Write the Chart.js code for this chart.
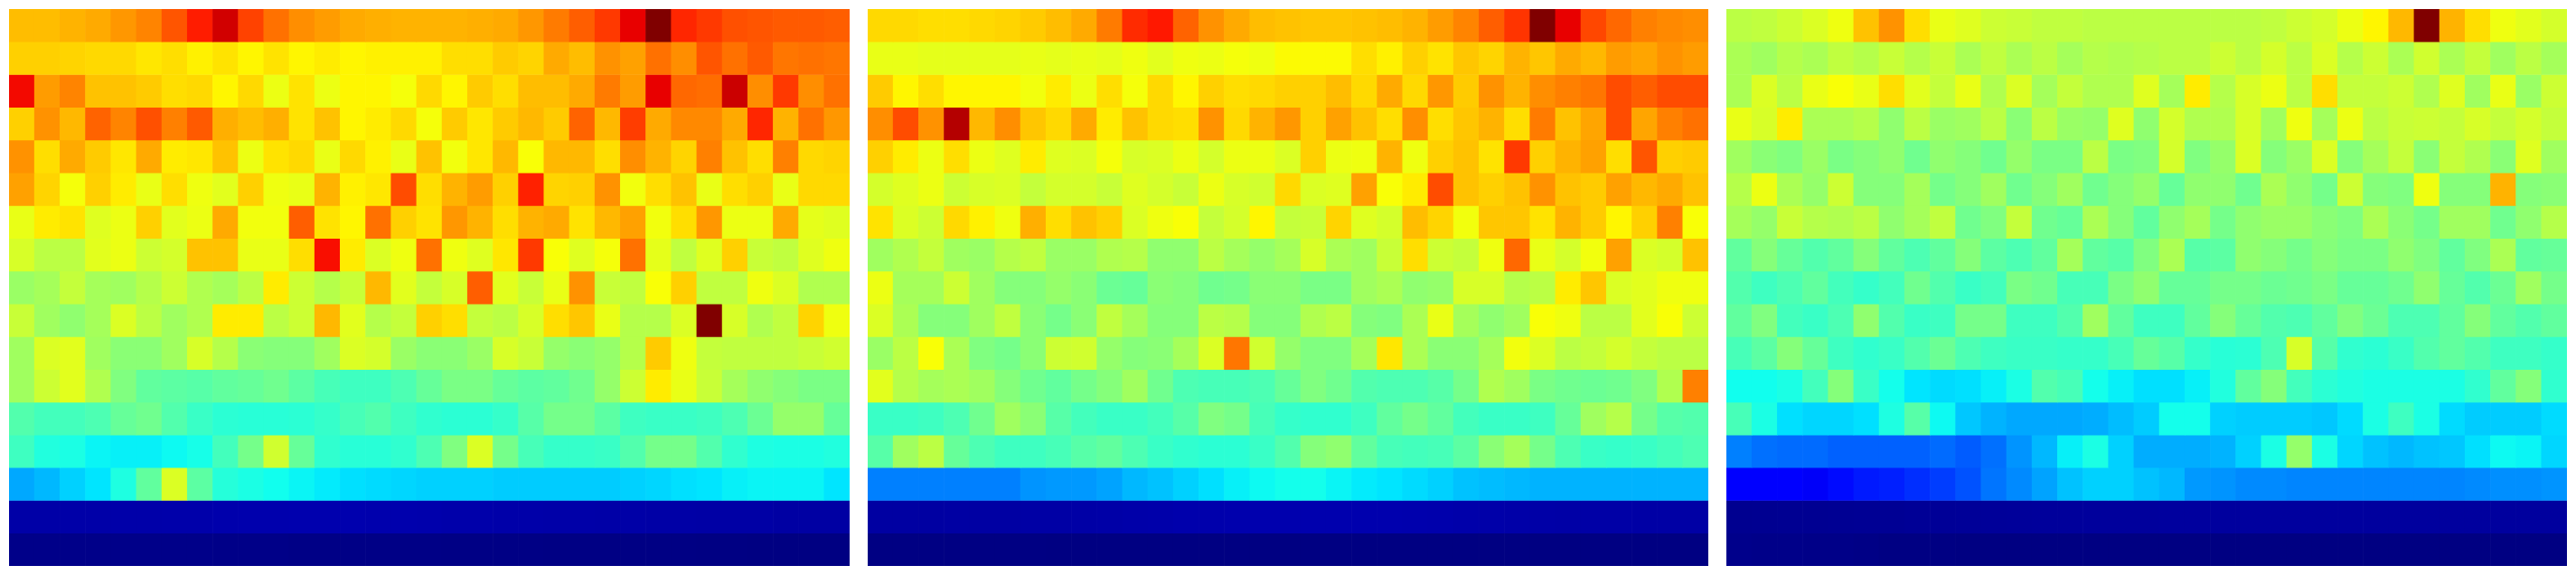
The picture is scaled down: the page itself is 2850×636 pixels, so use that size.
<!DOCTYPE html>
<html>
<head>
<meta charset="utf-8">
<title>Heatmaps</title>
<script src="https://cdn.jsdelivr.net/npm/chart.js@4"></script>
<style>
  html, body { margin: 0; padding: 0; background: #fff; }
  body { width: 2850px; height: 636px; position: relative; overflow: hidden; }
  canvas { position: absolute; top: 10px; }
  #panelLeft { left: 10px; }
  #panelMiddle { left: 960px; }
  #panelRight { left: 1910px; }
</style>
</head>
<body>
<canvas id="panelLeft" width="930" height="616"></canvas>
<canvas id="panelMiddle" width="930" height="616"></canvas>
<canvas id="panelRight" width="930" height="616"></canvas>
<script>
// values, 0..1 on the colour scale, top row first
const leftRows = [
  [.71,.71,.72,.73,.75,.77,.82,.88,.93,.84,.79,.76,.745,.73,.725,.72,.72,.72,.725,.73,.75,.78,.81,.85,.91,1,.87,.85,.825,.82,.815,.815,.81],
  [.69,.69,.685,.68,.68,.665,.675,.655,.67,.65,.67,.65,.66,.65,.655,.655,.655,.675,.675,.695,.685,.73,.71,.755,.74,.79,.76,.82,.79,.815,.785,.79,.785],
  [.9,.745,.77,.705,.705,.695,.675,.68,.65,.68,.62,.67,.62,.65,.65,.635,.68,.65,.695,.675,.71,.71,.73,.78,.745,.91,.8,.795,.935,.76,.85,.76,.79],
  [.69,.755,.715,.805,.77,.825,.775,.815,.725,.71,.725,.67,.705,.65,.66,.68,.635,.695,.665,.695,.715,.695,.805,.715,.845,.73,.765,.765,.73,.87,.72,.79,.75],
  [.755,.675,.73,.695,.665,.73,.66,.665,.705,.62,.67,.68,.615,.68,.655,.615,.705,.63,.665,.715,.64,.715,.715,.675,.76,.72,.685,.775,.705,.675,.775,.68,.685],
  [.74,.685,.635,.69,.66,.615,.675,.625,.605,.69,.625,.615,.72,.655,.665,.83,.675,.72,.745,.69,.875,.685,.69,.755,.63,.675,.705,.615,.675,.69,.615,.68,.68],
  [.615,.66,.67,.6,.62,.69,.605,.62,.73,.63,.63,.81,.67,.65,.79,.69,.67,.75,.72,.675,.72,.73,.67,.715,.74,.63,.675,.75,.62,.62,.73,.61,.6],
  [.59,.555,.555,.605,.62,.575,.585,.705,.705,.615,.615,.675,.895,.66,.595,.625,.79,.625,.6,.665,.85,.64,.6,.635,.79,.61,.56,.6,.69,.57,.56,.6,.625],
  [.525,.535,.565,.535,.53,.55,.575,.545,.535,.555,.66,.575,.55,.57,.715,.605,.565,.59,.81,.605,.57,.615,.755,.57,.56,.64,.69,.56,.56,.625,.595,.545,.545],
  [.57,.53,.515,.535,.595,.555,.53,.545,.66,.66,.555,.575,.715,.605,.55,.565,.69,.675,.565,.555,.59,.675,.7,.615,.55,.55,.595,1,.59,.545,.56,.685,.625],
  [.53,.595,.605,.53,.51,.51,.53,.59,.55,.51,.505,.505,.53,.595,.585,.525,.51,.51,.525,.59,.57,.52,.51,.52,.55,.695,.625,.565,.56,.56,.56,.57,.58],
  [.53,.575,.605,.545,.5,.47,.465,.46,.47,.475,.485,.465,.445,.435,.435,.45,.475,.495,.495,.475,.465,.47,.485,.52,.575,.66,.615,.57,.535,.515,.505,.495,.495],
  [.455,.44,.44,.45,.475,.485,.455,.43,.415,.41,.41,.415,.425,.445,.455,.435,.42,.415,.415,.425,.46,.49,.49,.465,.435,.43,.43,.435,.45,.48,.52,.52,.475],
  [.435,.4,.39,.365,.36,.36,.37,.385,.44,.49,.58,.475,.42,.41,.41,.42,.45,.5,.595,.49,.445,.425,.425,.43,.455,.49,.49,.455,.42,.395,.39,.39,.4],
  [.29,.305,.33,.35,.395,.47,.595,.465,.405,.39,.375,.365,.355,.345,.34,.335,.33,.33,.33,.325,.325,.325,.325,.325,.33,.335,.345,.35,.36,.365,.365,.365,.35],
  [.034,.034,.035,.035,.036,.036,.037,.037,.038,.039,.039,.04,.04,.04,.039,.039,.038,.037,.037,.036,.036,.035,.035,.034,.034,.033,.033,.032,.032,.032,.031,.031,.031],
  [.008,.008,.008,.008,.008,.008,.008,.008,.007,.007,.007,.006,.006,.006,.006,.006,.006,.005,.005,.005,.005,.004,.004,.004,.004,.004,.004,.003,.003,.002,.002,.002,.002]
];

const middleRows = [
  [.68,.68,.675,.675,.68,.685,.695,.71,.73,.78,.865,.885,.805,.755,.73,.71,.705,.7,.7,.705,.71,.72,.745,.77,.81,.855,1,.91,.835,.8,.775,.765,.76],
  [.615,.615,.61,.61,.61,.61,.615,.61,.615,.61,.625,.605,.625,.62,.635,.625,.645,.645,.645,.675,.655,.69,.67,.7,.685,.72,.7,.73,.715,.745,.735,.755,.745],
  [.695,.65,.675,.65,.65,.65,.63,.66,.62,.675,.635,.68,.65,.69,.675,.68,.69,.69,.71,.68,.73,.68,.75,.695,.755,.72,.76,.775,.785,.83,.81,.83,.83],
  [.76,.83,.755,.955,.715,.76,.7,.68,.73,.66,.705,.68,.675,.755,.68,.72,.75,.69,.74,.705,.675,.76,.675,.7,.72,.675,.78,.705,.735,.83,.735,.775,.79],
  [.69,.66,.62,.675,.62,.6,.66,.6,.595,.635,.59,.595,.62,.585,.62,.62,.595,.69,.62,.625,.72,.625,.69,.705,.67,.85,.69,.72,.74,.675,.82,.69,.695],
  [.585,.6,.62,.575,.59,.595,.565,.585,.585,.57,.6,.585,.57,.62,.59,.58,.68,.595,.6,.74,.64,.66,.83,.705,.69,.705,.755,.705,.695,.74,.715,.73,.705],
  [.67,.595,.575,.68,.655,.625,.725,.675,.705,.69,.595,.625,.64,.565,.585,.65,.565,.57,.685,.6,.585,.71,.685,.63,.7,.7,.67,.72,.695,.65,.69,.775,.64],
  [.53,.545,.565,.53,.525,.55,.56,.525,.525,.545,.55,.515,.515,.555,.535,.52,.535,.59,.54,.53,.57,.675,.575,.565,.625,.8,.615,.585,.63,.74,.595,.585,.705],
  [.62,.535,.535,.575,.53,.505,.505,.52,.51,.48,.475,.51,.505,.485,.49,.51,.51,.495,.495,.53,.54,.515,.52,.59,.59,.55,.555,.66,.7,.595,.605,.625,.625],
  [.595,.54,.505,.505,.53,.56,.51,.49,.51,.56,.535,.505,.505,.555,.55,.505,.505,.545,.555,.505,.5,.54,.615,.535,.515,.53,.64,.625,.555,.555,.605,.64,.575],
  [.525,.555,.64,.54,.5,.49,.51,.575,.58,.52,.505,.51,.535,.595,.785,.58,.52,.5,.5,.535,.665,.54,.51,.51,.535,.63,.595,.555,.565,.585,.565,.555,.555],
  [.605,.55,.535,.54,.53,.505,.485,.47,.49,.505,.53,.485,.45,.445,.445,.45,.475,.5,.485,.455,.45,.45,.46,.49,.545,.53,.495,.485,.48,.485,.5,.545,.775],
  [.43,.43,.435,.45,.485,.53,.51,.46,.44,.43,.43,.44,.46,.5,.49,.445,.425,.42,.42,.435,.47,.49,.47,.44,.43,.43,.435,.475,.53,.55,.49,.46,.455],
  [.46,.53,.555,.475,.45,.435,.435,.445,.46,.47,.45,.43,.42,.415,.415,.43,.455,.505,.515,.47,.445,.44,.445,.465,.51,.535,.49,.45,.43,.425,.43,.44,.45],
  [.25,.25,.25,.25,.25,.25,.27,.275,.275,.285,.305,.315,.33,.345,.36,.37,.38,.38,.365,.355,.35,.34,.33,.315,.31,.305,.3,.3,.3,.3,.3,.3,.3],
  [.03,.03,.03,.031,.031,.031,.032,.032,.033,.034,.036,.037,.038,.038,.039,.04,.04,.04,.04,.04,.04,.039,.038,.037,.036,.035,.034,.033,.033,.033,.032,.032,.032],
  [.003,.003,.003,.003,.003,.003,.003,.002,.002,.002,.002,.002,.002,.002,.002,.002,.002,.002,.002,.002,.002,.002,.002,.002,.002,.002,.002,.002,.002,.002,.002,.002,.002]
];

const rightRows = [
  [.555,.56,.575,.595,.625,.705,.755,.675,.615,.6,.575,.57,.56,.56,.555,.555,.555,.555,.555,.555,.555,.56,.575,.585,.62,.65,.715,1,.72,.675,.625,.605,.585],
  [.54,.53,.55,.54,.56,.55,.57,.55,.57,.54,.56,.54,.555,.535,.55,.545,.55,.555,.555,.575,.555,.585,.555,.595,.55,.575,.54,.58,.54,.565,.53,.555,.535],
  [.54,.595,.555,.615,.64,.615,.675,.605,.565,.615,.545,.595,.535,.565,.545,.545,.6,.535,.66,.55,.59,.62,.555,.675,.565,.565,.575,.545,.6,.53,.615,.525,.575],
  [.615,.59,.66,.54,.54,.55,.515,.555,.525,.53,.555,.51,.555,.525,.52,.6,.515,.585,.545,.545,.59,.53,.625,.535,.62,.555,.57,.575,.565,.59,.565,.585,.565],
  [.53,.51,.5,.525,.495,.505,.515,.485,.515,.505,.485,.52,.495,.495,.555,.495,.5,.585,.5,.52,.595,.505,.525,.595,.505,.535,.565,.51,.565,.545,.51,.6,.53],
  [.55,.62,.54,.52,.575,.505,.505,.535,.49,.505,.53,.485,.505,.53,.485,.505,.52,.475,.515,.515,.485,.54,.515,.49,.575,.505,.5,.625,.505,.505,.72,.505,.51],
  [.535,.52,.57,.55,.545,.555,.515,.535,.56,.485,.5,.565,.485,.475,.54,.505,.47,.515,.535,.49,.515,.525,.525,.51,.5,.54,.51,.49,.53,.53,.485,.515,.55],
  [.47,.505,.475,.455,.47,.505,.47,.45,.47,.505,.465,.45,.47,.535,.47,.46,.5,.54,.46,.465,.515,.505,.49,.505,.495,.495,.515,.5,.47,.5,.54,.47,.475],
  [.455,.435,.45,.47,.44,.425,.44,.485,.455,.43,.44,.495,.485,.445,.445,.495,.515,.475,.475,.49,.49,.48,.485,.495,.475,.475,.485,.515,.475,.455,.48,.53,.49],
  [.47,.5,.44,.43,.45,.515,.455,.43,.435,.49,.49,.435,.435,.455,.53,.47,.435,.435,.47,.505,.475,.455,.45,.47,.5,.48,.45,.45,.47,.505,.47,.455,.47],
  [.445,.465,.505,.475,.435,.42,.43,.455,.48,.45,.435,.43,.43,.425,.425,.445,.475,.46,.425,.41,.415,.45,.59,.46,.42,.415,.43,.455,.47,.455,.435,.435,.425],
  [.375,.375,.39,.44,.505,.43,.38,.35,.34,.345,.36,.39,.455,.445,.38,.36,.345,.345,.36,.4,.47,.505,.44,.415,.4,.39,.39,.39,.39,.42,.47,.505,.42],
  [.445,.39,.345,.335,.335,.345,.395,.46,.37,.32,.3,.29,.29,.29,.295,.31,.325,.38,.38,.33,.325,.325,.325,.32,.34,.39,.435,.39,.34,.325,.325,.325,.34],
  [.25,.235,.23,.23,.22,.22,.22,.22,.23,.215,.235,.27,.305,.36,.39,.33,.295,.295,.295,.3,.33,.39,.52,.39,.335,.315,.305,.315,.32,.345,.37,.365,.335],
  [.12,.12,.12,.105,.135,.15,.155,.17,.185,.205,.24,.26,.285,.315,.33,.33,.315,.305,.275,.27,.26,.26,.255,.255,.255,.255,.255,.255,.255,.26,.265,.265,.27],
  [.014,.015,.016,.016,.017,.018,.018,.019,.02,.021,.022,.023,.024,.024,.025,.025,.025,.026,.026,.026,.026,.026,.026,.026,.026,.026,.026,.026,.026,.026,.026,.026,.026],
  [.01,.008,.008,.007,.007,.006,.003,.003,.003,.002,.002,.002,.002,.002,.002,.002,.002,.002,.002,.002,.002,.002,.002,.002,.002,.002,.002,.002,.002,.002,.002,.002,.002]
];

const columns = leftRows[0].map((_, i) => String(i + 1));

// red ramp of the scale between cyan and yellow, as [value, red]
const redRamp = [[.35,0],[.415,.17],[.445,.28],[.485,.44],[.5,.5],[.53,.627],[.56,.753],[.595,.86],[.62,.925],[.65,1]];

function rampRed(v) {
  if (v <= redRamp[0][0]) return 0;
  for (let i = 1; i < redRamp.length; i++) {
    const [x0, y0] = redRamp[i - 1];
    const [x1, y1] = redRamp[i];
    if (v <= x1) return y0 + (y1 - y0) * (v - x0) / (x1 - x0);
  }
  return 1;
}

// jet colours
function jet(v) {
  const clip = x => Math.max(0, Math.min(1, x));
  const r = v < 0.89 ? rampRed(v) : 1 - (v - 0.89) / 0.11 * 0.5;
  const g = v < 0.64 ? clip((v - 0.125) / 0.25) : clip((0.91 - v) / 0.27);
  let b = 0;
  if (v < 0.35) b = clip(0.5 + v / 0.11 * 0.5);
  else if (v < 0.65) b = 1 - r;
  return `rgb(${Math.round(r * 255)},${Math.round(g * 255)},${Math.round(b * 255)})`;
}

function drawPanel(id, rows) {
  const datasets = rows.map((row, r) => ({
    data: row.map(() => [r, r + 1]),
    backgroundColor: row.map(jet),
    borderWidth: 0,
    barPercentage: 1,
    categoryPercentage: 1,
    grouped: false
  }));

  new Chart(document.getElementById(id).getContext('2d'), {
    type: 'bar',
    data: { labels: columns, datasets: datasets },
    options: {
      responsive: false,
      animation: false,
      events: [],
      layout: { padding: 0 },
      plugins: { legend: { display: false }, tooltip: { enabled: false } },
      scales: {
        x: { display: false },
        y: { display: false, reverse: true, min: 0, max: rows.length }
      }
    }
  });
}

drawPanel('panelLeft', leftRows);
drawPanel('panelMiddle', middleRows);
drawPanel('panelRight', rightRows);
</script>
</body>
</html>
